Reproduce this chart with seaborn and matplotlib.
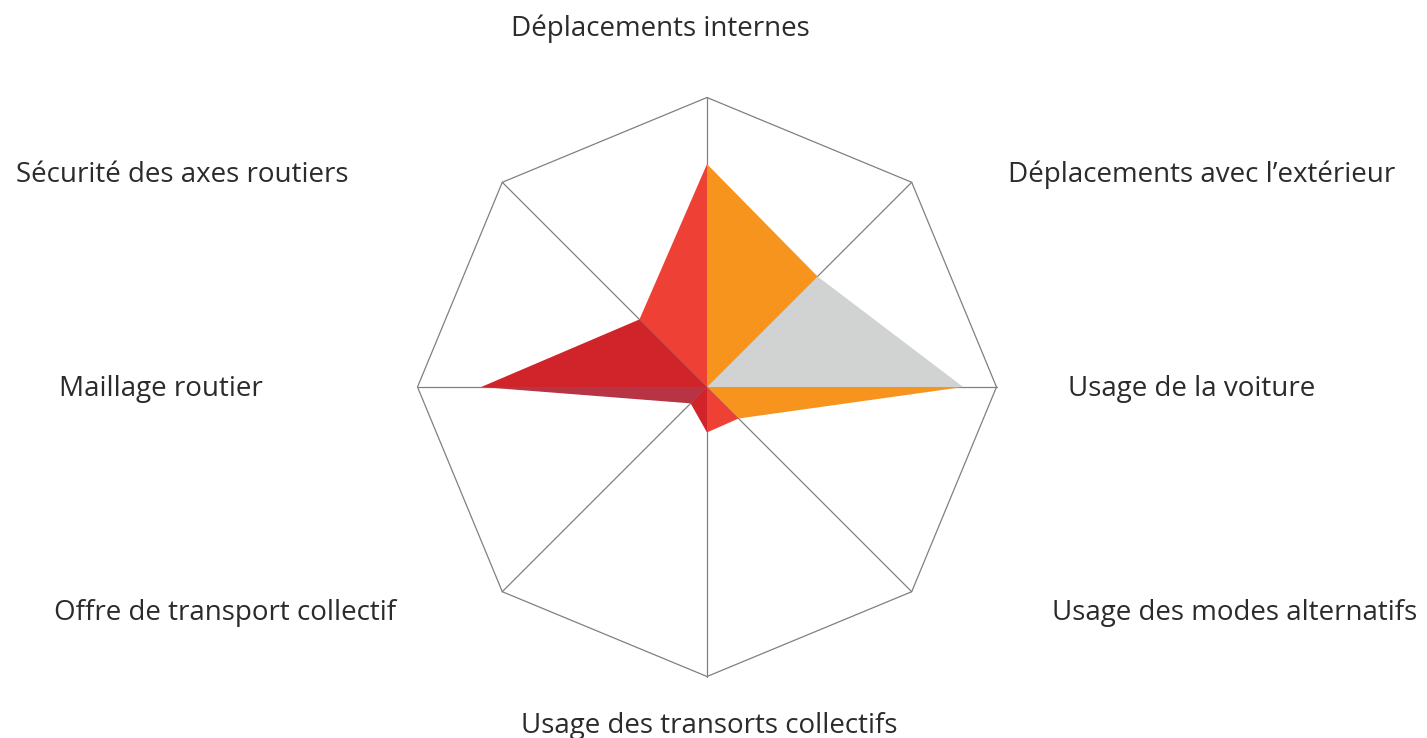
import numpy as np
import pandas as pd
import matplotlib
matplotlib.use("Agg")
import matplotlib.pyplot as plt
import seaborn as sns

categories = [
    "Déplacements internes",
    "Déplacements avec l’extérieur",
    "Usage de la voiture",
    "Usage des modes alternatifs",
    "Usage des transorts collectifs",
    "Offre de transport collectif",
    "Maillage routier",
    "Sécurité des axes routiers",
]
values = [0.77, 0.54, 0.885, 0.154, 0.157, 0.08, 0.78, 0.33]
sector_colors = ["#F7941D", "#D1D3D2", "#F7941D", "#EF4036",
                 "#D0232A", "#B73444", "#D0232A", "#EF4036"]

# label layout (pixel positions in the 1427x738 canvas, alignment)
label_px = [(660, 29, "center"), (1008, 175, "left"), (1068, 389, "left"),
            (1052, 613, "left"), (709, 726, "center"), (396, 613, "right"),
            (263, 389, "right"), (348, 175, "right")]

W, H = 1427, 738
CX, CY, R = 707, 387, 289.5

sns.set_theme(style="white")
plt.rcParams['font.family'] = ['Open Sans', 'DejaVu Sans']

fig = plt.figure(figsize=(W / 100, H / 100), dpi=100)
ax = fig.add_axes([0, 0, 1, 1])
ax.set_xlim(-CX / R, (W - CX) / R)
ax.set_ylim(-(H - CY) / R, CY / R)
ax.axis("off")

n = len(categories)
theta = np.arange(n) * 2 * np.pi / n
ux, uy = np.sin(theta), np.cos(theta)

grid_col = "#808080"
outline = pd.DataFrame({"x": np.append(ux, ux[0]), "y": np.append(uy, uy[0])})
sns.lineplot(data=outline, x="x", y="y", sort=False, estimator=None,
             color=grid_col, lw=0.9, ax=ax, zorder=1)
for i in range(n):
    ax.plot([0, ux[i]], [0, uy[i]], color=grid_col, lw=0.9, zorder=1)

v = np.array(values)
px, py = v * ux, v * uy
for i in range(n):
    j = (i + 1) % n
    ax.fill([0, px[i], px[j]], [0, py[i], py[j]], color=sector_colors[i],
            lw=0, zorder=3)

for lab, (x, y, ha) in zip(categories, label_px):
    fig.text(x / W, 1 - y / H, lab, ha=ha, va="center", fontsize=20,
             color="#2B2B2B", fontweight="normal")

fig.savefig("out.png", dpi=100)
